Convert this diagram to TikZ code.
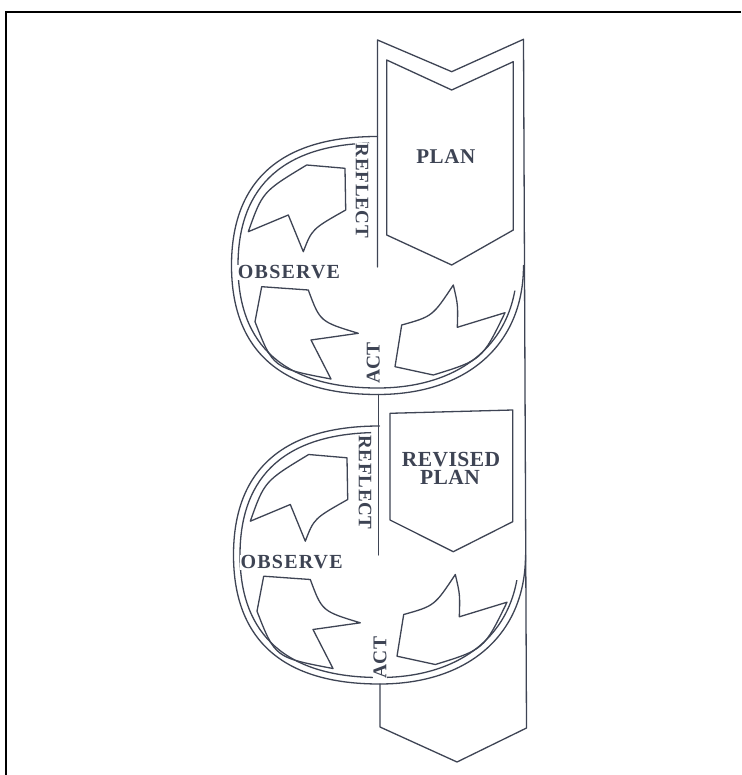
\documentclass[tikz,border=0pt]{standalone}
\usepackage{fontspec}
\setmainfont{Liberation Serif}
\definecolor{ink}{RGB}{62,68,84}
\tikzset{
  ln/.style={draw=ink, line width=1.3pt, line join=round, line cap=round},
  lbl/.style={text=ink, inner sep=0.5pt, fill=white},
  ttl/.style={text=ink, inner sep=0.5pt, text height=14.2pt, text depth=0pt},
}
\newcommand{\lblfont}[2]{\bfseries\fontsize{#1}{#1}\selectfont\addfontfeatures{LetterSpace=#2}}
\begin{document}
\begin{tikzpicture}[x=1pt,y=-1pt]
\useasboundingbox (0,0) rectangle (741,775);
\fill[white] (0,0) rectangle (741,775);
\draw[black, line width=2pt] (741,12) -- (6,12) -- (6,775);

% vertical band
\draw[ln] (377.5,267) -- (377.5,40) -- (451.7,71.7) -- (523.5,39.3) -- (526.5,728) -- (457,762) -- (380,727) -- (380,684);
\draw[ln] (378.5,394.5) -- (378.5,555);
% PLAN chevron
\draw[ln] (386.7,60) -- (451.7,90) -- (513.3,61.7) -- (513.3,230) -- (451.7,265) -- (386.7,235) -- cycle;
% REVISED PLAN box
\draw[ln] (390,413.3) -- (512.7,410) -- (512.7,521.7) -- (453.3,551.7) -- (390,520) -- cycle;

\foreach \dx/\dy [count=\i] in {0/0, 2/289.5} {
 \begin{scope}[shift={(\dx,\dy)}]
  \coordinate (c\i) at (377.5,265.5);
  % outer rim (top -> left -> bottom -> right)
  \draw[ln] (377.5,136.5) .. controls (281.1,136.5) and (231.5,180.4) .. (231.5,265.5)
     .. controls (231.5,350.6) and (281.1,394.5) .. (377.5,394.5)
     .. controls (467,394.5) and (523.5,344.6) .. (523.5,265.5);
  % inner rim
  \begin{scope}
   \clip (0,0) -- (369,0) -- (369,290.5) -- (600,290.5) -- (600,800) -- (0,800) -- cycle;
   \draw[ln] (377.5,143) .. controls (285.4,143) and (238,184.6) .. (238,265.5)
      .. controls (238,346.4) and (285.4,388) .. (377.5,388)
      .. controls (463,388) and (517,340.6) .. (517,265.5);
  \end{scope}
  % arrow observe -> reflect
  \draw[ln] (306.7,165) -- (345,168.3) -- (345.7,210) .. controls (312,229) .. (303.3,251.7)
     -- (288.3,215) -- (248.3,231.7) .. controls (262.5,191.7) .. (306.7,165) -- cycle;
  % arrow act -> observe
  \draw[ln] (261.7,286.7) -- (308.3,290) .. controls (320,321.7) .. (358.3,333.3)
     -- (311,340) -- (331,379) .. controls (273,368) .. (255,321.7) -- cycle;
  % arrow plan -> act
  \draw[ln] (453.3,285) .. controls (458,305) .. (457.3,327.3) -- (505,312.7)
     .. controls (482,360) .. (433.3,375) -- (395,366.7) -- (401.7,325)
     .. controls (432.5,316.4) .. (453.3,285) -- cycle;
 \end{scope}
}

\node[lbl, rotate=-90, font=\lblfont{19}{4}] (refl1) at (362,191) {REFLECT};
\node[lbl, font=\lblfont{20}{6}] (obs1) at (289,272.5) {OBSERVE};
\node[lbl, rotate=90, font=\lblfont{19.5}{0}] (act1) at (373.3,363.3) {ACT};
\node[lbl, rotate=-90, font=\lblfont{19}{4}] (refl2) at (365,482.5) {REFLECT};
\node[lbl, font=\lblfont{20}{6}] (obs2) at (291.7,562.5) {OBSERVE};
\node[lbl, rotate=90, font=\lblfont{19.5}{0}] (act2) at (380,657.5) {ACT};
\node[ttl, font=\lblfont{21}{3}] (plan) at (445.8,156.7) {PLAN};
\node[ttl, font=\lblfont{21.5}{2}] (rev) at (451,459.2) {REVISED};
\node[ttl, font=\lblfont{21.5}{2}] (rplan) at (450,477.8) {PLAN};
\end{tikzpicture}
\end{document}
